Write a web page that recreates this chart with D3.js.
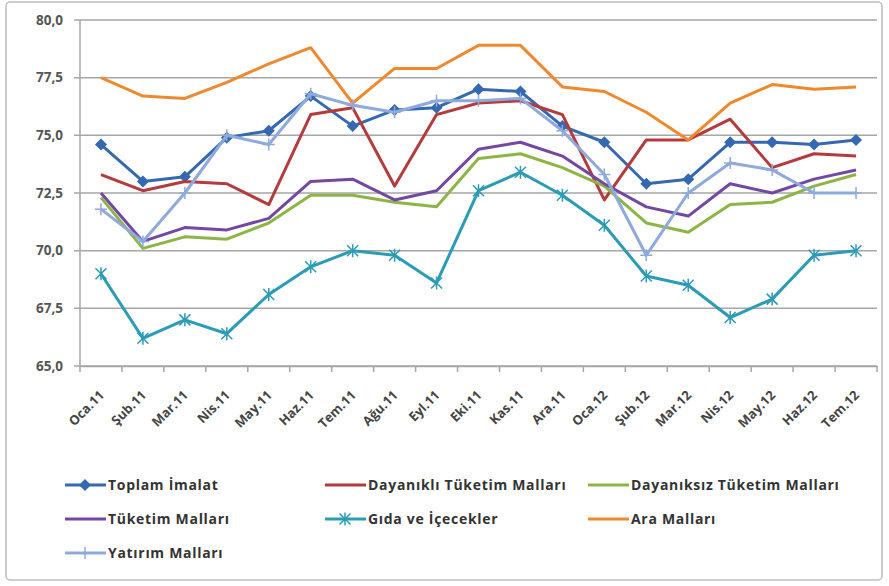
<!DOCTYPE html>
<html>
<head>
<meta charset="utf-8">
<script src="https://cdn.jsdelivr.net/npm/d3@7"></script>
<style>
  body { margin: 0; background: #fff; }
  svg { display: block; font-family: "Open Sans", "Liberation Sans", sans-serif; }
</style>
</head>
<body>
<svg id="chart" width="889" height="586"></svg>
<script>
const months = ["Oca.11", "Şub.11", "Mar.11", "Nis.11", "May.11", "Haz.11", "Tem.11", "Ağu.11", "Eyl.11", "Eki.11",
  "Kas.11", "Ara.11", "Oca.12", "Şub.12", "Mar.12", "Nis.12", "May.12", "Haz.12", "Tem.12"];

const toplamImalat = [74.6, 73.0, 73.2, 74.9, 75.2, 76.7, 75.4, 76.1, 76.2, 77.0, 76.9, 75.4, 74.7, 72.9, 73.1, 74.7, 74.7, 74.6, 74.8];
const dayanikli = [73.3, 72.6, 73.0, 72.9, 72.0, 75.9, 76.2, 72.8, 75.9, 76.4, 76.5, 75.9, 72.2, 74.8, 74.8, 75.7, 73.6, 74.2, 74.1];
const dayaniksiz = [72.3, 70.1, 70.6, 70.5, 71.2, 72.4, 72.4, 72.1, 71.9, 74.0, 74.2, 73.6, 72.8, 71.2, 70.8, 72.0, 72.1, 72.8, 73.3];
const tuketim = [72.5, 70.4, 71.0, 70.9, 71.4, 73.0, 73.1, 72.2, 72.6, 74.4, 74.7, 74.1, 72.9, 71.9, 71.5, 72.9, 72.5, 73.1, 73.5];
const gida = [69.0, 66.2, 67.0, 66.4, 68.1, 69.3, 70.0, 69.8, 68.6, 72.6, 73.4, 72.4, 71.1, 68.9, 68.5, 67.1, 67.9, 69.8, 70.0];
const araMallari = [77.5, 76.7, 76.6, 77.3, 78.1, 78.8, 76.4, 77.9, 77.9, 78.9, 78.9, 77.1, 76.9, 76.0, 74.8, 76.4, 77.2, 77.0, 77.1];
const yatirim = [71.8, 70.4, 72.5, 75.0, 74.6, 76.8, 76.3, 76.0, 76.5, 76.5, 76.6, 75.2, 73.3, 69.8, 72.5, 73.8, 73.5, 72.5, 72.5];

const yTicks = [65, 67.5, 70, 72.5, 75, 77.5, 80];

const series = [
  { name: "Toplam İmalat", values: toplamImalat, color: "#3468b0", marker: "diamond", col: 0, row: 0 },
  { name: "Dayanıklı Tüketim Malları", values: dayanikli, color: "#b53a3c", marker: null, col: 1, row: 0 },
  { name: "Dayanıksız Tüketim Malları", values: dayaniksiz, color: "#8cb545", marker: null, col: 2, row: 0 },
  { name: "Tüketim Malları", values: tuketim, color: "#7447a2", marker: null, col: 0, row: 1 },
  { name: "Gıda ve İçecekler", values: gida, color: "#2b9bb6", marker: "star", col: 1, row: 1 },
  { name: "Ara Malları", values: araMallari, color: "#f0892e", marker: null, col: 2, row: 1 },
  { name: "Yatırım Malları", values: yatirim, color: "#8eaadc", marker: "plus", col: 0, row: 2 }
];

const svg = d3.select("#chart");

// outer frame
svg.append("rect")
  .attr("x", 6).attr("y", 2).attr("width", 876).attr("height", 578)
  .attr("rx", 4)
  .attr("fill", "#fff").attr("stroke", "#bdbdbd").attr("stroke-width", 1.5);

const plotLeft = 80, plotRight = 877, plotTop = 20, plotBottom = 366;

const x = d3.scaleBand().domain(months).range([plotLeft, plotRight]);
const y = d3.scaleLinear().domain([65, 80]).range([plotBottom, plotTop]);

// gridlines
svg.append("g")
  .selectAll("line")
  .data(yTicks)
  .join("line")
  .attr("x1", plotLeft - 6).attr("x2", plotRight)
  .attr("y1", (d) => y(d)).attr("y2", (d) => y(d))
  .attr("stroke", "#a6a6a6").attr("stroke-width", 1.5);

// y labels
svg.append("g")
  .selectAll("text")
  .data(yTicks)
  .join("text")
  .attr("x", 63).attr("y", (d) => y(d))
  .attr("dy", "0.35em")
  .attr("text-anchor", "end")
  .attr("font-size", 13.5).attr("font-weight", "bold").attr("fill", "#555")
  .text((d) => d3.format(".1f")(d).replace(".", ","));

// y axis line
svg.append("line")
  .attr("x1", plotLeft).attr("x2", plotLeft).attr("y1", plotTop).attr("y2", plotBottom)
  .attr("stroke", "#a6a6a6").attr("stroke-width", 1.5);

// x axis line
const xAxis = d3.axisBottom(x).tickSize(0).tickFormat("");
svg.append("g")
  .attr("transform", `translate(0,${plotBottom})`)
  .call(xAxis)
  .call((g) => g.select(".domain").attr("stroke", "#a6a6a6").attr("stroke-width", 1.5))
  .call((g) => g.selectAll(".tick").remove());

// x tick marks between categories
svg.append("g")
  .selectAll("line")
  .data(months.concat(["end"]))
  .join("line")
  .attr("x1", (d, i) => plotLeft + i * x.step())
  .attr("x2", (d, i) => plotLeft + i * x.step())
  .attr("y1", plotBottom).attr("y2", plotBottom + 6)
  .attr("stroke", "#a6a6a6").attr("stroke-width", 1.5);

// x labels
svg.append("g")
  .selectAll("text")
  .data(months)
  .join("text")
  .attr("transform", (d) => `translate(${x(d) + x.bandwidth() / 2 + 4},${plotBottom + 30}) rotate(-45)`)
  .attr("text-anchor", "end")
  .attr("font-size", 13).attr("font-weight", "bold").attr("fill", "#444")
  .text((d) => d);

const cx = (i) => x(months[i]) + x.bandwidth() / 2;

const line = d3.line()
  .x((d, i) => cx(i))
  .y((d) => y(d));

function drawMarker(g, type, color, px, py) {
  if (type === "diamond") {
    const s = 6;
    g.append("path")
      .attr("d", `M0,${-s}L${s},0L0,${s}L${-s},0Z`)
      .attr("transform", `translate(${px},${py})`)
      .attr("fill", color);
  } else if (type === "star") {
    const s = 5.5;
    g.append("path")
      .attr("d", `M${-s},${-s}L${s},${s}M${-s},${s}L${s},${-s}M0,${-s - 1}L0,${s + 1}`)
      .attr("transform", `translate(${px},${py})`)
      .attr("stroke", color).attr("stroke-width", 1.5).attr("fill", "none");
  } else if (type === "plus") {
    const s = 6;
    g.append("path")
      .attr("d", `M${-s},0L${s},0M0,${-s}L0,${s}`)
      .attr("transform", `translate(${px},${py})`)
      .attr("stroke", color).attr("stroke-width", 1.5).attr("fill", "none");
  }
}

const plot = svg.append("g");
series.forEach((s) => {
  const g = plot.append("g");
  g.append("path")
    .datum(s.values)
    .attr("d", line)
    .attr("fill", "none")
    .attr("stroke", s.color)
    .attr("stroke-width", 3)
    .attr("stroke-linejoin", "round");
  if (s.marker) {
    s.values.forEach((v, i) => drawMarker(g, s.marker, s.color, cx(i), y(v)));
  }
});

// legend
const colX = [65, 325, 588];
const rowY = [485, 519, 553];
const legend = svg.append("g");
series.forEach((s) => {
  const lx = colX[s.col], ly = rowY[s.row];
  const g = legend.append("g");
  g.append("line")
    .attr("x1", lx).attr("x2", lx + 41).attr("y1", ly).attr("y2", ly)
    .attr("stroke", s.color).attr("stroke-width", 3);
  if (s.marker) drawMarker(g, s.marker, s.color, lx + 20, ly);
  g.append("text")
    .attr("x", lx + 43).attr("y", ly)
    .attr("dy", "0.35em")
    .attr("font-size", 14).attr("font-weight", "bold").attr("fill", "#333")
    .attr("letter-spacing", 0.7)
    .text(s.name);
});
</script>
</body>
</html>
